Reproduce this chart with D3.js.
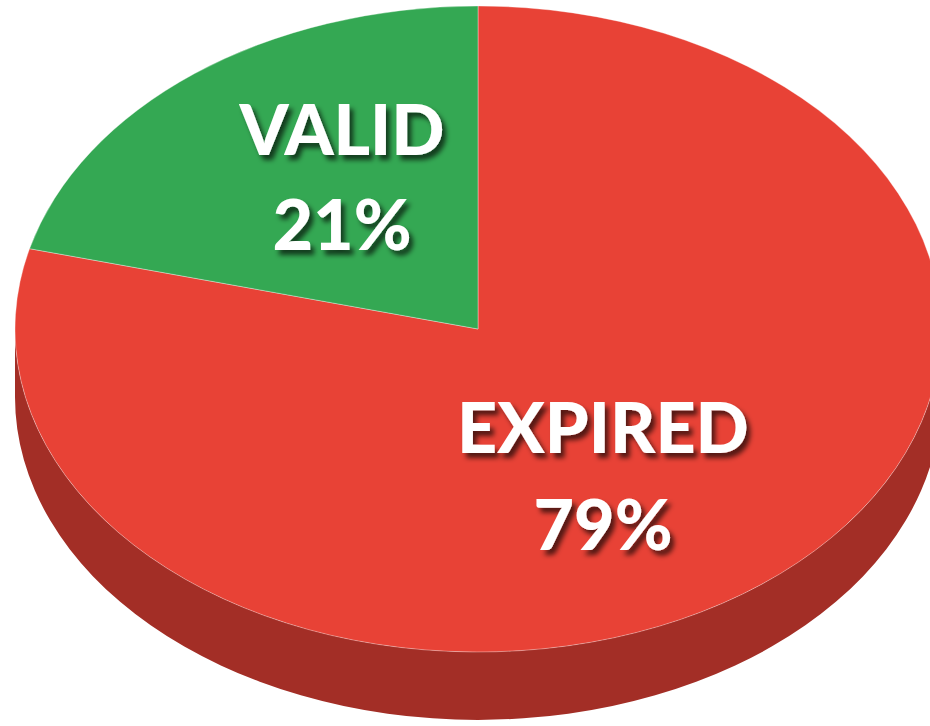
<!DOCTYPE html>
<html><head><meta charset="utf-8">
<script src="https://cdn.jsdelivr.net/npm/d3@7"></script>
<style>html,body{margin:0;padding:0;background:#fff;overflow:hidden}</style>
</head><body>
<svg id="c" width="930" height="726"></svg>
<script>
const categories = ["EXPIRED", "VALID"];
const values = [79, 21];
const topColors = ["#E84236", "#34A853"];
const sideColors = ["#A32E26", "#1F7A3A"];

const svg = d3.select("#c");
const cx = 478, cy = 329, rx = 463, ry = 323, depth = 68;

const defs = svg.append("defs");
const f = defs.append("filter").attr("id","sh").attr("x","-20%").attr("y","-20%").attr("width","140%").attr("height","150%");
f.append("feDropShadow").attr("dx",4).attr("dy",5).attr("stdDeviation",2.5).attr("flood-color","#000").attr("flood-opacity",0.65);

const pie = d3.pie().sort(null).value(d => d)(values);
const P = (a, dy=0) => [cx + rx*Math.sin(a), cy - ry*Math.cos(a) + dy];

// sides (front half only: angles between PI/2 and 3PI/2)
pie.forEach((s,i) => {
  const a = Math.max(s.startAngle, Math.PI/2), b = Math.min(s.endAngle, 3*Math.PI/2);
  if (b <= a) return;
  const p0 = P(a), p1 = P(b), q1 = P(b, depth), q0 = P(a, depth);
  const large = (b - a) > Math.PI ? 1 : 0;
  svg.append("path")
    .attr("d", `M${p0}A${rx},${ry} 0 ${large} 1 ${p1}L${q1}A${rx},${ry} 0 ${large} 0 ${q0}Z`)
    .attr("fill", sideColors[i]);
});

// top face
pie.forEach((s,i) => {
  const p0 = P(s.startAngle), p1 = P(s.endAngle);
  const large = (s.endAngle - s.startAngle) > Math.PI ? 1 : 0;
  svg.append("path")
    .attr("d", `M${cx},${cy}L${p0}A${rx},${ry} 0 ${large} 1 ${p1}Z`)
    .attr("fill", topColors[i])
    .attr("stroke", "rgba(255,255,255,0.35)").attr("stroke-width", 1);
});

// labels
const labelPos = [[603, 453, 550], [342, 155, 250]];
pie.forEach((s,i) => {
  const g = svg.append("g").attr("filter","url(#sh)")
    .attr("font-family","Lato, 'Open Sans', sans-serif").attr("font-weight",900)
    .attr("font-size",70).attr("fill","#fff").attr("text-anchor","middle");
  g.append("text").attr("x",labelPos[i][0]).attr("y",labelPos[i][1]).text(categories[i]);
  g.append("text").attr("x",labelPos[i][0]).attr("y",labelPos[i][2]).text(values[i] + "%");
});
</script>
</body></html>
